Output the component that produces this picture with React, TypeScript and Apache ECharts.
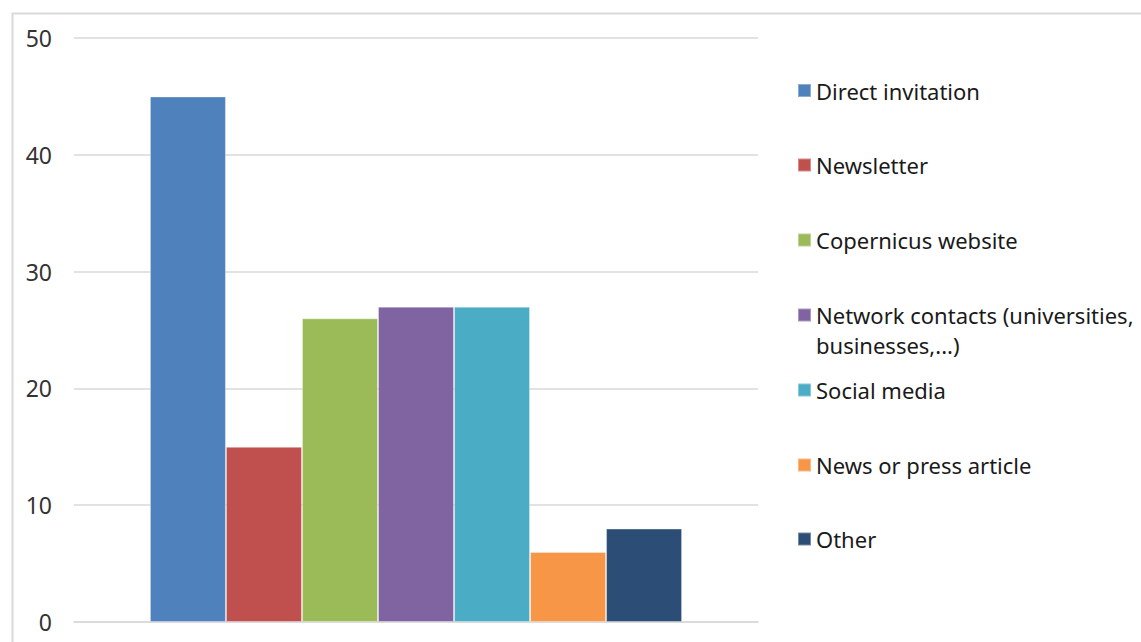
import React, { useEffect, useRef } from "react";
import * as echarts from "echarts";

const categories = ["Source"];
const seriesNames = [
  "Direct invitation",
  "Newsletter",
  "Copernicus website",
  "Network contacts (universities, businesses,...)",
  "Social media",
  "News or press article",
  "Other",
];
const seriesValues = [45, 15, 26, 27, 27, 6, 8];
const seriesColors = ["#4f81bd", "#c0504d", "#9bbb59", "#8064a2", "#4bacc6", "#f79646", "#2c4d75"];
const legendLabels = [
  "Direct invitation",
  "Newsletter",
  "Copernicus website",
  "Network contacts (universities,",
  "Social media",
  "News or press article",
  "Other",
];
const legendCenters = [90.5, 165, 240, 315, 390, 465, 539];

const FONT = "Noto Sans";

export default function App() {
  const ref = useRef<HTMLDivElement>(null);
  useEffect(() => {
    if (!ref.current) return;
    const chart = echarts.init(ref.current, undefined, { renderer: "svg" });
    chart.setOption({
      animation: false,
      backgroundColor: "#ffffff",
      grid: { left: 74, right: 383, top: 38, bottom: 20, containLabel: false },
      xAxis: {
        type: "category",
        data: categories,
        axisLine: { show: true, lineStyle: { color: "#d9d9d9", width: 1.5 } },
        axisTick: { show: false },
        axisLabel: { show: false },
      },
      yAxis: {
        type: "value",
        min: 0,
        max: 50,
        interval: 10,
        axisLine: { show: false },
        axisTick: { show: false },
        axisLabel: { color: "#333333", fontSize: 23, fontFamily: FONT, margin: 22 },
        splitLine: { lineStyle: { color: "#d9d9d9", width: 1.5 } },
      },
      legend: seriesNames.map((name, i) => ({
        data: [name],
        orient: "vertical",
        left: 797,
        top: legendCenters[i] - 12,
        padding: 0,
        itemWidth: 13,
        itemHeight: 13,
        icon: "rect",
        selectedMode: false,
        formatter: () => legendLabels[i],
        textStyle: { color: "#1a1a1a", fontSize: 22, lineHeight: 24, fontFamily: FONT },
      })),
      graphic: [
        {
          type: "rect",
          left: 10,
          top: 11,
          shape: { x: 0, y: 0, width: 1200, height: 700 },
          style: { fill: "none", stroke: "#d9d9d9", lineWidth: 2 },
          silent: true,
          z: -1,
        },
        {
          type: "text",
          left: 816,
          top: 333,
          style: { text: "businesses,...)", fill: "#1a1a1a", font: `22px "${FONT}"`, lineHeight: 24 },
        },
      ],
      series: seriesNames.map((name, i) => ({
        name,
        type: "bar",
        data: [seriesValues[i]],
        barGap: "0%",
        barCategoryGap: "22.2%",
        itemStyle: { color: seriesColors[i], borderColor: "rgba(255,255,255,0.35)", borderWidth: 1 },
      })),
    });
    return () => chart.dispose();
  }, []);
  return (
    <div
      ref={ref}
      style={{ position: "fixed", left: 0, top: 0, width: 1141, height: 642 }}
    />
  );
}
